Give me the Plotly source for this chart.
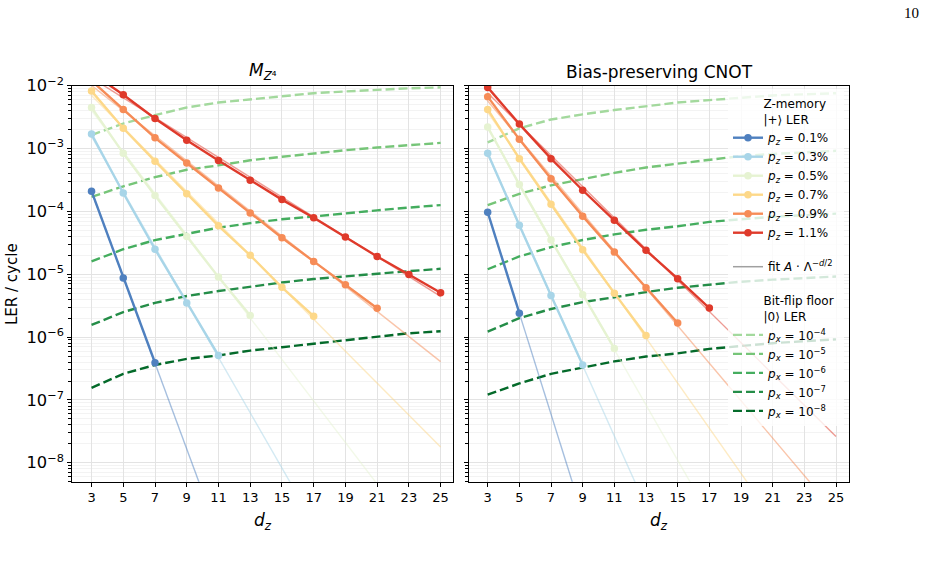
import numpy as np
import plotly.graph_objects as go

# ---------------- data ----------------
d_ticks = [3, 5, 7, 9, 11, 13, 15, 17, 19, 21, 23, 25]
pz_labels = ["0.1%", "0.3%", "0.5%", "0.7%", "0.9%", "1.1%"]
pz_colors = ["#4f80bf", "#a8d5e8", "#e6f3d2", "#fdd889", "#f68c57", "#df3a2b"]
px_labels = ["−4", "−5", "−6", "−7", "−8"]
px_colors = ["#a3d99d", "#76c578", "#45ad5f", "#258d48", "#056b2b"]

# Left panel: M_{Z^4}
L_d_p01 = [3, 5, 7]
L_y_p01 = [2.1e-4, 8.7e-6, 3.9e-7]
L_d_p03 = [3, 5, 7, 9, 11]
L_y_p03 = [1.7e-3, 1.96e-4, 2.5e-5, 3.5e-6, 5.1e-7]
L_d_p05 = [3, 5, 7, 9, 11, 13]
L_y_p05 = [4.5e-3, 8.4e-4, 1.79e-4, 4.0e-5, 9.0e-6, 2.2e-6]
L_d_p07 = [3, 5, 7, 9, 11, 13, 15, 17]
L_y_p07 = [8.2e-3, 2.1e-3, 6.3e-4, 1.9e-4, 5.9e-5, 2.0e-5, 6.2e-6, 2.15e-6]
L_d_p09 = [3, 5, 7, 9, 11, 13, 15, 17, 19, 21]
L_y_p09 = [1.2e-2, 4.2e-3, 1.48e-3, 5.9e-4, 2.36e-4, 9.4e-5, 3.8e-5, 1.6e-5, 6.8e-6, 2.88e-6]
L_d_p11 = [3, 5, 7, 9, 11, 13, 15, 17, 19, 21, 23, 25]
L_y_p11 = [1.6e-2, 7.2e-3, 3.0e-3, 1.35e-3, 6.45e-4, 3.13e-4, 1.54e-4, 7.9e-5, 3.9e-5, 1.92e-5, 9.9e-6, 5.07e-6]

L_floor_1e4 = [1.64e-3, 2.5e-3, 3.4e-3, 4.5e-3, 5.4e-3, 6.1e-3, 6.9e-3, 7.6e-3, 8.1e-3, 8.6e-3, 9.1e-3, 9.4e-3]
L_floor_1e5 = [1.7e-4, 2.5e-4, 3.5e-4, 4.6e-4, 5.4e-4, 6.5e-4, 7.4e-4, 8.4e-4, 9.4e-4, 1.04e-3, 1.13e-3, 1.23e-3]
L_floor_1e6 = [1.6e-5, 2.5e-5, 3.5e-5, 4.4e-5, 5.5e-5, 6.5e-5, 7.5e-5, 8.3e-5, 9.4e-5, 1.04e-4, 1.15e-4, 1.26e-4]
L_floor_1e7 = [1.56e-6, 2.5e-6, 3.5e-6, 4.5e-6, 5.4e-6, 6.4e-6, 7.4e-6, 8.4e-6, 9.3e-6, 1.03e-5, 1.12e-5, 1.22e-5]
L_floor_1e8 = [1.56e-7, 2.6e-7, 3.6e-7, 4.5e-7, 5.1e-7, 6.1e-7, 6.9e-7, 7.8e-7, 8.8e-7, 1.02e-6, 1.15e-6, 1.24e-6]

# Right panel: Bias-preserving CNOT
R_d_p01 = [3, 5]
R_y_p01 = [9.7e-5, 2.4e-6]
R_d_p03 = [3, 5, 7, 9]
R_y_p03 = [8.4e-4, 6.0e-5, 4.6e-6, 3.6e-7]
R_d_p05 = [3, 5, 7, 9, 11]
R_y_p05 = [2.2e-3, 2.67e-4, 3.5e-5, 4.7e-6, 6.6e-7]
R_d_p07 = [3, 5, 7, 9, 11, 13]
R_y_p07 = [4.2e-3, 6.9e-4, 1.3e-4, 2.45e-5, 5.0e-6, 1.06e-6]
R_d_p09 = [3, 5, 7, 9, 11, 13, 15]
R_y_p09 = [6.7e-3, 1.4e-3, 3.3e-4, 8.4e-5, 2.25e-5, 6.1e-6, 1.68e-6]
R_d_p11 = [3, 5, 7, 9, 11, 13, 15, 17]
R_y_p11 = [9.4e-3, 2.45e-3, 6.9e-4, 2.17e-4, 7.2e-5, 2.4e-5, 8.5e-6, 2.9e-6]

R_floor_1e4 = [1.25e-3, 2.1e-3, 2.9e-3, 3.5e-3, 4.1e-3, 4.7e-3, 5.4e-3, 5.9e-3, 6.5e-3, 7.0e-3, 7.3e-3, 7.6e-3]
R_floor_1e5 = [1.26e-4, 1.9e-4, 2.6e-4, 3.3e-4, 4.1e-4, 5.0e-4, 5.8e-4, 6.7e-4, 7.6e-4, 8.2e-4, 8.7e-4, 9.2e-4]
R_floor_1e6 = [1.2e-5, 1.92e-5, 2.7e-5, 3.5e-5, 4.3e-5, 5.1e-5, 5.8e-5, 6.8e-5, 7.5e-5, 8.2e-5, 8.7e-5, 9.2e-5]
R_floor_1e7 = [1.22e-6, 2.0e-6, 2.8e-6, 3.6e-6, 4.3e-6, 5.2e-6, 6.1e-6, 6.9e-6, 7.6e-6, 8.2e-6, 8.7e-6, 9.2e-6]
R_floor_1e8 = [1.21e-7, 1.83e-7, 2.6e-7, 3.3e-7, 4.1e-7, 4.9e-7, 5.5e-7, 6.5e-7, 7.3e-7, 8.0e-7, 8.6e-7, 9.2e-7]

L_series = [(L_d_p01, L_y_p01), (L_d_p03, L_y_p03), (L_d_p05, L_y_p05),
            (L_d_p07, L_y_p07), (L_d_p09, L_y_p09), (L_d_p11, L_y_p11)]
R_series = [(R_d_p01, R_y_p01), (R_d_p03, R_y_p03), (R_d_p05, R_y_p05),
            (R_d_p07, R_y_p07), (R_d_p09, R_y_p09), (R_d_p11, R_y_p11)]
L_floors = [L_floor_1e4, L_floor_1e5, L_floor_1e6, L_floor_1e7, L_floor_1e8]
R_floors = [R_floor_1e4, R_floor_1e5, R_floor_1e6, R_floor_1e7, R_floor_1e8]

FONT = "DejaVu Sans"
W, H = 941, 569
IND = "\u00a0" * 8
fig = go.Figure()

def add_panel(series, floors, xa, ya, legend):
    # bit-flip floors
    for i, fl in enumerate(floors):
        fig.add_trace(go.Scatter(
            x=d_ticks, y=fl, mode="lines", xaxis=xa, yaxis=ya,
            line=dict(color=px_colors[i], width=2.4, dash="9px,4px"),
            name="<i>p<sub>x</sub></i> = 10<sup>%s</sup>" % px_labels[i],
            legendgroup="floor",
            legendgrouptitle_text=IND + "Bit-flip floor<br>" + IND + "|0⟩ LER",
            legendrank=300 + i, showlegend=legend))
    # fits A * Lambda^(-d/2), least squares on the read points
    for i, (d, y) in enumerate(series):
        k, b = np.polyfit(np.array(d, float), np.log10(y), 1)
        xf = np.array([3.0, 25.0])
        fig.add_trace(go.Scatter(
            x=xf, y=10 ** (b + k * xf), mode="lines", xaxis=xa, yaxis=ya,
            line=dict(color=pz_colors[i], width=1.4), opacity=0.5,
            showlegend=False, hoverinfo="skip"))
    # data
    for i, (d, y) in enumerate(series):
        fig.add_trace(go.Scatter(
            x=d, y=y, mode="lines+markers", xaxis=xa, yaxis=ya,
            line=dict(color=pz_colors[i], width=2.4),
            marker=dict(color=pz_colors[i], size=7.5),
            name="<i>p<sub>z</sub></i> = %s" % pz_labels[i],
            legendgroup="pz",
            legendgrouptitle_text=IND + "Z-memory<br>" + IND + "|+⟩ LER",
            legendrank=100 + i, showlegend=legend))

add_panel(L_series, L_floors, "x", "y", True)
add_panel(R_series, R_floors, "x2", "y2", False)

# legend entry for fit
fig.add_trace(go.Scatter(x=[None], y=[None], mode="lines", xaxis="x2", yaxis="y2",
                         line=dict(color="#a0a0a0", width=1.5),
                         name="fit <i>A</i> · Λ<sup>−<i>d</i>/2</sup>",
                         legendgroup="fit", legendrank=200, showlegend=True))

def px2x(p):
    return p / W

def px2y(p):
    return 1 - p / H

ylo, yhi = np.log10(5.0e-9), -2.0
common_x = dict(
    tickmode="array", tickvals=d_ticks, ticktext=[str(v) for v in d_ticks],
    ticks="outside", ticklen=4, tickwidth=1, tickcolor="black",
    showgrid=True, gridcolor="#e3e3e3", gridwidth=1,
    showline=True, linecolor="black", linewidth=1.3, mirror=True,
    zeroline=False, automargin=False,
    tickfont=dict(family=FONT, size=13, color="black"),
)
common_y = dict(
    type="log", range=[ylo, yhi], dtick=1, exponentformat="power",
    ticks="outside", ticklen=4, tickwidth=1, tickcolor="black",
    showgrid=True, gridcolor="#e3e3e3", gridwidth=1,
    minor=dict(ticks="outside", ticklen=2.5, tickcolor="black", showgrid=True,
               gridcolor="#f3f3f3", gridwidth=1),
    showline=True, linecolor="black", linewidth=1.3, mirror=True,
    zeroline=False, automargin=False,
    tickfont=dict(family=FONT, size=13, color="black"),
)

top, bot = 85.7, 481.7
fig.update_layout(
    width=W, height=H, autosize=False,
    margin=dict(l=0, r=0, t=0, b=0, pad=0, autoexpand=False),
    paper_bgcolor="white", plot_bgcolor="white",
    font=dict(family=FONT, size=13, color="black"),
    xaxis=dict(domain=[px2x(71.7), px2x(453.3)], range=[1.75, 25.8], anchor="y", **common_x),
    yaxis=dict(domain=[px2y(bot), px2y(top)], anchor="x", **common_y),
    xaxis2=dict(domain=[px2x(469.0), px2x(849.3)], range=[1.82, 25.84], anchor="y2", **common_x),
    yaxis2=dict(domain=[px2y(bot), px2y(top)], anchor="x2", showticklabels=False, **common_y),
    showlegend=True,
    legend=dict(x=px2x(728), y=px2y(89), xanchor="left", yanchor="top",
                bgcolor="rgba(255,255,255,0.8)", borderwidth=0,
                font=dict(family=FONT, size=12, color="black"),
                grouptitlefont=dict(family=FONT, size=12, color="black"),
                tracegroupgap=15, traceorder="grouped", itemwidth=30),
)

ann = [
    dict(text="<i>M</i><sub><i>Z</i>⁴</sub>", x=px2x(262.5), y=px2y(72), font=dict(size=17)),
    dict(text="Bias-preserving CNOT", x=px2x(659), y=px2y(72), font=dict(size=17)),
    dict(text="<i>d</i><sub><i>z</i></sub>", x=px2x(262.5), y=px2y(521), font=dict(size=17)),
    dict(text="<i>d</i><sub><i>z</i></sub>", x=px2x(659), y=px2y(521), font=dict(size=17)),
    dict(text="LER / cycle", x=px2x(12), y=px2y(284), textangle=-90, font=dict(size=15)),
    dict(text="10", x=px2x(911), y=px2y(13), font=dict(size=15, family="Liberation Serif")),
]
for a in ann:
    f = dict(family=FONT, color="black")
    f.update(a.pop("font"))
    fig.add_annotation(xref="paper", yref="paper", showarrow=False,
                       xanchor="center", yanchor="middle", font=f, **a)

fig.write_html("out.html")
